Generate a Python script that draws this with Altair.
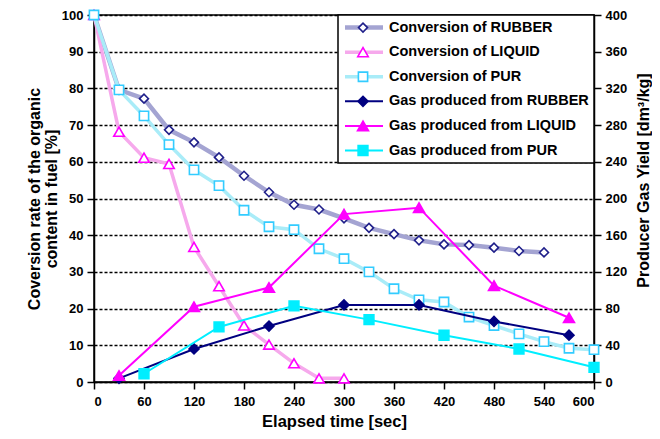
import altair as alt
import pandas as pd

# ---------------- data ----------------
t_conv_rubber = [0, 30, 60, 90, 120, 150, 180, 210, 240, 270, 300, 330, 360, 390, 420, 450, 480, 510, 540]
conv_rubber = [100, 79.6, 77.2, 68.7, 65.3, 61.2, 56.2, 51.7, 48.3, 47.0, 44.6, 42.0, 40.3, 38.6, 37.5, 37.3, 36.6, 35.7, 35.3]

t_conv_liquid = [0, 30, 60, 90, 120, 150, 180, 210, 240, 270, 300]
conv_liquid = [100, 68.2, 61.1, 59.4, 36.8, 26.1, 15.4, 10.2, 5.1, 1.0, 1.0]

t_conv_pur = [0, 30, 60, 90, 120, 150, 180, 210, 240, 270, 300, 330, 360, 390, 420, 450, 480, 510, 540, 570, 600]
conv_pur = [100, 79.6, 72.5, 64.7, 57.8, 53.5, 46.8, 42.3, 41.5, 36.3, 33.6, 30.0, 25.4, 22.4, 21.8, 17.7, 15.4, 13.1, 11.0, 9.2, 8.8]

t_gas_rubber = [30, 120, 210, 300, 390, 480, 570]
gas_rubber = [4, 36, 61, 84, 84, 66, 51]

t_gas_liquid = [30, 120, 210, 300, 390, 480, 570]
gas_liquid = [7, 82, 103, 183, 190, 105, 70]

t_gas_pur = [60, 150, 240, 330, 420, 510, 600]
gas_pur = [9, 60, 83, 68, 51, 36, 16]

conv_names = ["Conversion of RUBBER", "Conversion of LIQUID", "Conversion of PUR"]
gas_names = ["Gas produced from RUBBER", "Gas produced from LIQUID", "Gas produced from PUR"]

x_ticks = [0, 60, 120, 180, 240, 300, 360, 420, 480, 540, 600]
left_ticks = [0, 10, 20, 30, 40, 50, 60, 70, 80, 90, 100]
right_ticks = [0, 40, 80, 120, 160, 200, 240, 280, 320, 360, 400]

# ---------------- tables ----------------
def frame(times, values, name):
    return pd.DataFrame({"time": times, "value": values, "series": name})

conv_df = pd.concat([
    frame(t_conv_rubber, conv_rubber, conv_names[0]),
    frame(t_conv_liquid, conv_liquid, conv_names[1]),
    frame(t_conv_pur, conv_pur, conv_names[2]),
], ignore_index=True)

gas_df = pd.concat([
    frame(t_gas_rubber, gas_rubber, gas_names[0]),
    frame(t_gas_liquid, gas_liquid, gas_names[1]),
    frame(t_gas_pur, gas_pur, gas_names[2]),
], ignore_index=True)

all_names = conv_names + gas_names
legend_df = pd.DataFrame({"label": all_names, "row": list(range(len(all_names)))})

# ---------------- styles ----------------
FONT = "Liberation Sans"
style = {
    conv_names[0]: dict(line="#a4a4d2", lw=4.5, shape="diamond", stroke="#1f1f8a", fill="white", size=80),
    conv_names[1]: dict(line="#f6a9ec", lw=3.5, shape="triangle-up", stroke="#ff00ff", fill="white", size=110),
    conv_names[2]: dict(line="#a9ecf8", lw=3.5, shape="square", stroke="#33ccff", fill="white", size=85),
    gas_names[0]: dict(line="#000080", lw=2, shape="diamond", stroke="#000080", fill="#000080", size=100),
    gas_names[1]: dict(line="#ff00ff", lw=2, shape="triangle-up", stroke="#ff00ff", fill="#ff00ff", size=120),
    gas_names[2]: dict(line="#00eeff", lw=2, shape="square", stroke="#00eeff", fill="#00eeff", size=95),
}

x_enc = alt.X("time:Q", scale=alt.Scale(domain=[0, 600], nice=False),
              axis=alt.Axis(values=x_ticks, title="Elapsed time [sec]", grid=False,
                            titleFontSize=16.5, labelPadding=6,
                            titleX=240, titleY=39, titleAlign="center", titleBaseline="middle"))

y_left = alt.Y("value:Q", scale=alt.Scale(domain=[0, 100], nice=False),
               axis=alt.Axis(values=left_ticks, orient="left",
                             title=["Coversion rate of the organic", "content in fuel [%]"],
                             grid=True, gridDash=[3, 2], gridColor="black", gridWidth=1.6,
                             titleFontSize=16, titleLineHeight=17, titlePadding=2, labelPadding=4))

y_right = alt.Y("value:Q", scale=alt.Scale(domain=[0, 400], nice=False),
                axis=alt.Axis(values=right_ticks, orient="right",
                              title="Producer Gas Yield [dm³/kg]", grid=False,
                              titleAngle=270, titleFontSize=16, titleX=49, titleY=165,
                              titleAlign="center", titleBaseline="middle", labelPadding=4))


def series_layers(df, name, y_enc):
    s = style[name]
    base = alt.Chart(df).transform_filter(alt.datum.series == name)
    line = base.mark_line(color=s["line"], strokeWidth=s["lw"]).encode(x=x_enc, y=y_enc)
    pts = base.mark_point(shape=s["shape"], size=s["size"], stroke=s["stroke"], fill=s["fill"],
                          filled=False, fillOpacity=1, opacity=1, strokeWidth=1.6).encode(x=x_enc, y=y_enc)
    return [line, pts]


conv_layers = []
for n in conv_names:
    conv_layers += series_layers(conv_df, n, y_left)
gas_layers = []
for n in gas_names:
    gas_layers += series_layers(gas_df, n, y_right)

conv_chart = alt.layer(*conv_layers)
gas_chart = alt.layer(*gas_layers)

# ---------------- legend (inside plot, top right) ----------------
leg_y = alt.Y("row:Q", scale=alt.Scale(domain=[0, 5], range=[12.6, 135.5]), axis=None)
box = alt.Chart(pd.DataFrame({"k": [0]})).mark_rect(fill="white", stroke="black", strokeWidth=1.5).encode(
    x=alt.value(244), x2=alt.value(500), y=alt.value(0), y2=alt.value(148))
legend_layers = [box]
for n in all_names:
    s = style[n]
    b = alt.Chart(legend_df).transform_filter(alt.datum.label == n)
    legend_layers.append(b.mark_rule(color=s["line"], strokeWidth=s["lw"]).encode(
        x=alt.value(251), x2=alt.value(289), y=leg_y))
    legend_layers.append(b.mark_point(shape=s["shape"], size=s["size"], stroke=s["stroke"], fill=s["fill"],
                                      filled=False, fillOpacity=1, opacity=1, strokeWidth=1.6).encode(
        x=alt.value(269), y=leg_y))
    legend_layers.append(b.mark_text(align="left", baseline="middle", font=FONT, fontSize=14.5,
                                     fontWeight="bold", color="black").encode(
        x=alt.value(295), y=leg_y, text="label:N"))
legend_chart = alt.layer(*legend_layers)

chart = alt.layer(conv_chart, gas_chart, legend_chart).resolve_scale(y="independent").properties(
    width=500, height=367,
    autosize=alt.AutoSizeParams(type="none"),
    padding={"left": 86, "top": 7, "right": 58, "bottom": 49},
).configure_view(stroke="black", strokeWidth=1.5).configure_axis(
    labelFont=FONT, labelFontWeight="bold", labelFontSize=13, labelColor="black",
    titleFont=FONT, titleFontWeight="bold", titleColor="black",
    domainColor="black", domainWidth=1.5, tickColor="black", tickWidth=1.5, tickSize=7,
)

chart.save("out.html", embed_options={"renderer": "svg", "actions": False})
